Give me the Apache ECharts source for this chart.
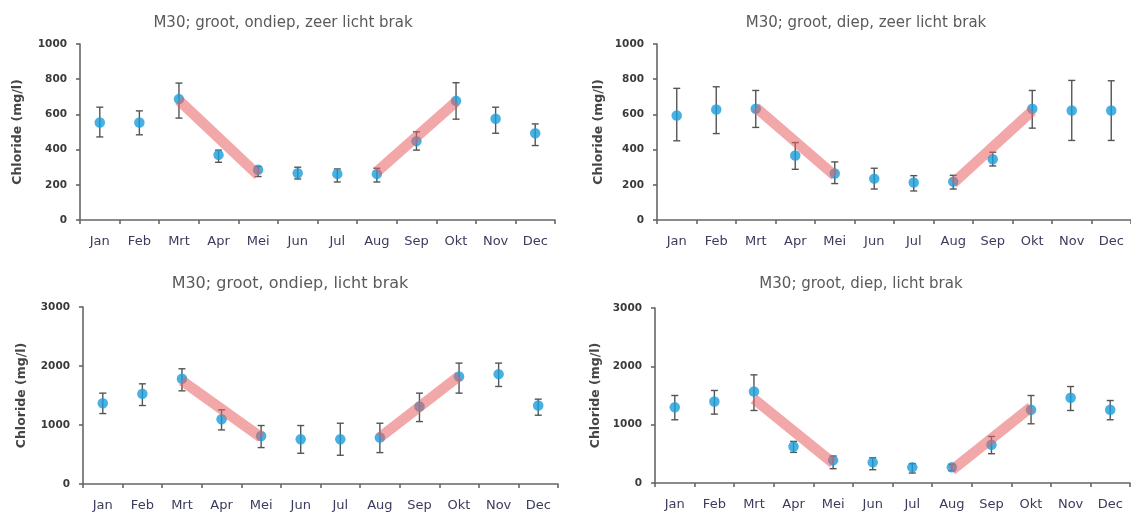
<!DOCTYPE html>
<html>
<head>
<meta charset="utf-8">
<title>Chloride per maand, M30</title>
<script src="https://cdn.jsdelivr.net/npm/echarts@6/dist/echarts.min.js"></script>
<style>
  html, body { margin: 0; padding: 0; background: #ffffff; overflow: hidden; }
  #chart { width: 1131px; height: 517px; }
</style>
</head>
<body>
<div id="chart"></div>
<script>
// Month categories shared by all four panels
const months = ['Jan', 'Feb', 'Mrt', 'Apr', 'Mei', 'Jun', 'Jul', 'Aug', 'Sep', 'Okt', 'Nov', 'Dec'];

// Panel titles
const titles = [
  'M30; groot, ondiep, zeer licht brak',
  'M30; groot, diep, zeer licht brak',
  'M30; groot, ondiep, licht brak',
  'M30; groot, diep, licht brak'
];

// y-axis ranges (max) and tick step per panel
const yMax = [1000, 1000, 3000, 3000];
const yStep = [200, 200, 1000, 1000];

// Monthly mean chloride (mg/l) with upper and lower error limits
const meanOndiepZeer = [554, 554, 687, 370, 285, 266, 262, 262, 448, 677, 575, 493];
const highOndiepZeer = [641, 620, 778, 397, 304, 300, 290, 294, 501, 780, 641, 546];
const lowOndiepZeer  = [472, 484, 579, 328, 247, 233, 216, 216, 397, 573, 493, 423];

const meanDiepZeer = [594, 628, 632, 366, 264, 235, 213, 218, 345, 632, 622, 622];
const highDiepZeer = [748, 757, 736, 440, 330, 294, 252, 254, 385, 736, 793, 791];
const lowDiepZeer  = [450, 491, 526, 288, 207, 176, 165, 176, 307, 522, 452, 452];

const meanOndiepLicht = [1370, 1528, 1783, 1098, 815, 758, 758, 787, 1313, 1823, 1862, 1330];
const highOndiepLicht = [1540, 1698, 1953, 1257, 991, 991, 1030, 1030, 1540, 2049, 2049, 1438];
const lowOndiepLicht  = [1194, 1330, 1579, 917, 617, 521, 487, 532, 1058, 1540, 1653, 1166];

const meanDiepLicht = [1300, 1397, 1568, 627, 388, 354, 268, 268, 656, 1255, 1460, 1255];
const highDiepLicht = [1500, 1586, 1854, 713, 462, 433, 331, 319, 798, 1500, 1654, 1414];
const lowDiepLicht  = [1084, 1181, 1243, 525, 245, 228, 171, 211, 502, 1015, 1243, 1084];

// Seasonal trend bands: spring decline (Mrt -> Mei) and autumn rise (Aug -> Okt)
const declineOndiepZeer = [['Mrt', 680], ['Mei', 255]];
const riseOndiepZeer    = [['Aug', 274], ['Okt', 672]];
const declineDiepZeer   = [['Mrt', 640], ['Mei', 252]];
const riseDiepZeer      = [['Aug', 210], ['Okt', 620]];
const declineOndiepLicht = [['Mrt', 1750], ['Mei', 790]];
const riseOndiepLicht    = [['Aug', 790], ['Okt', 1830]];
const declineDiepLicht   = [['Mrt', 1440], ['Mei', 340]];
const riseDiepLicht      = [['Aug', 220], ['Okt', 1300]];

const panels = [
  { mean: meanOndiepZeer, high: highOndiepZeer, low: lowOndiepZeer, bands: [declineOndiepZeer, riseOndiepZeer] },
  { mean: meanDiepZeer, high: highDiepZeer, low: lowDiepZeer, bands: [declineDiepZeer, riseDiepZeer] },
  { mean: meanOndiepLicht, high: highOndiepLicht, low: lowOndiepLicht, bands: [declineOndiepLicht, riseOndiepLicht] },
  { mean: meanDiepLicht, high: highDiepLicht, low: lowDiepLicht, bands: [declineDiepLicht, riseDiepLicht] }
];

// Plot areas, title placement and axis-name gaps in pixels
const grids = [
  { left: 80, top: 44, width: 475, height: 176, titleX: 278, titleY: 11, titleSize: 15, nameGap: 56 },
  { left: 657, top: 44, width: 475, height: 176, titleX: 861, titleY: 11, titleSize: 15, nameGap: 52 },
  { left: 83, top: 307, width: 475, height: 177, titleX: 285, titleY: 271, titleSize: 16, nameGap: 55 },
  { left: 655, top: 308, width: 475, height: 175, titleX: 856, titleY: 272, titleSize: 15, nameGap: 53 }
];

const FONT = '"DejaVu Sans", sans-serif';
const axisColor = '#666666';
const dotColor = '#1a9ddb';
const bandColor = 'rgba(232, 96, 96, 0.55)';

const option = {
  animation: false,
  backgroundColor: '#ffffff',
  title: [],
  grid: [],
  xAxis: [],
  yAxis: [],
  series: []
};

panels.forEach((p, i) => {
  const g = grids[i];
  option.grid.push({ left: g.left, top: g.top, width: g.width, height: g.height, containLabel: false });

  option.title.push({
    text: titles[i],
    left: g.titleX,
    top: g.titleY,
    textAlign: 'center',
    textStyle: { fontFamily: FONT, fontSize: g.titleSize, fontWeight: 'normal', color: '#5a5a5a' }
  });

  option.xAxis.push({
    type: 'category',
    gridIndex: i,
    data: months,
    boundaryGap: true,
    axisLine: { lineStyle: { color: axisColor, width: 1.6 } },
    axisTick: { show: true, inside: false, length: 4, lineStyle: { color: axisColor, width: 1.6 } },
    axisLabel: { fontFamily: FONT, fontSize: 13, color: '#3b3b5c', margin: 15 },
    splitLine: { show: false }
  });

  option.yAxis.push({
    type: 'value',
    gridIndex: i,
    min: 0,
    max: yMax[i],
    interval: yStep[i],
    name: 'Chloride (mg/l)',
    nameLocation: 'middle',
    nameRotate: 90,
    nameGap: g.nameGap,
    nameTextStyle: { fontFamily: FONT, fontSize: 12.5, fontWeight: 'bold', color: '#454545' },
    axisLine: { show: true, lineStyle: { color: axisColor, width: 1.6 } },
    axisTick: { show: true, length: 4, lineStyle: { color: axisColor, width: 1.6 } },
    axisLabel: {
      fontFamily: FONT, fontSize: 10.5, fontWeight: 'bold', color: '#3a3a3a', margin: 13,
      formatter: v => String(v)
    },
    splitLine: { show: false }
  });

  // Error bars with caps
  option.series.push({
    type: 'custom',
    xAxisIndex: i,
    yAxisIndex: i,
    data: months.map((m, k) => [k, p.low[k], p.high[k]]),
    renderItem: function (params, api) {
      const x = api.value(0);
      const lo = api.coord([x, api.value(1)]);
      const hi = api.coord([x, api.value(2)]);
      const cap = 3.5;
      const style = { stroke: '#555555', lineWidth: 1.4 };
      return {
        type: 'group',
        children: [
          { type: 'line', shape: { x1: hi[0], y1: hi[1], x2: lo[0], y2: lo[1] }, style: style },
          { type: 'line', shape: { x1: hi[0] - cap, y1: hi[1], x2: hi[0] + cap, y2: hi[1] }, style: style },
          { type: 'line', shape: { x1: lo[0] - cap, y1: lo[1], x2: lo[0] + cap, y2: lo[1] }, style: style }
        ]
      };
    },
    z: 2
  });

  // Monthly means
  option.series.push({
    type: 'scatter',
    xAxisIndex: i,
    yAxisIndex: i,
    data: p.mean,
    symbol: 'circle',
    symbolSize: 10.5,
    itemStyle: { color: dotColor },
    z: 3
  });

  // Trend bands, drawn over the dots
  p.bands.forEach(b => {
    option.series.push({
      type: 'line',
      xAxisIndex: i,
      yAxisIndex: i,
      data: b,
      symbol: 'none',
      lineStyle: { color: bandColor, width: 10.5, cap: 'butt' },
      z: 4,
      silent: true
    });
  });
});

const chart = echarts.init(document.getElementById('chart'), null, { renderer: 'canvas' });
chart.setOption(option);
</script>
</body>
</html>
